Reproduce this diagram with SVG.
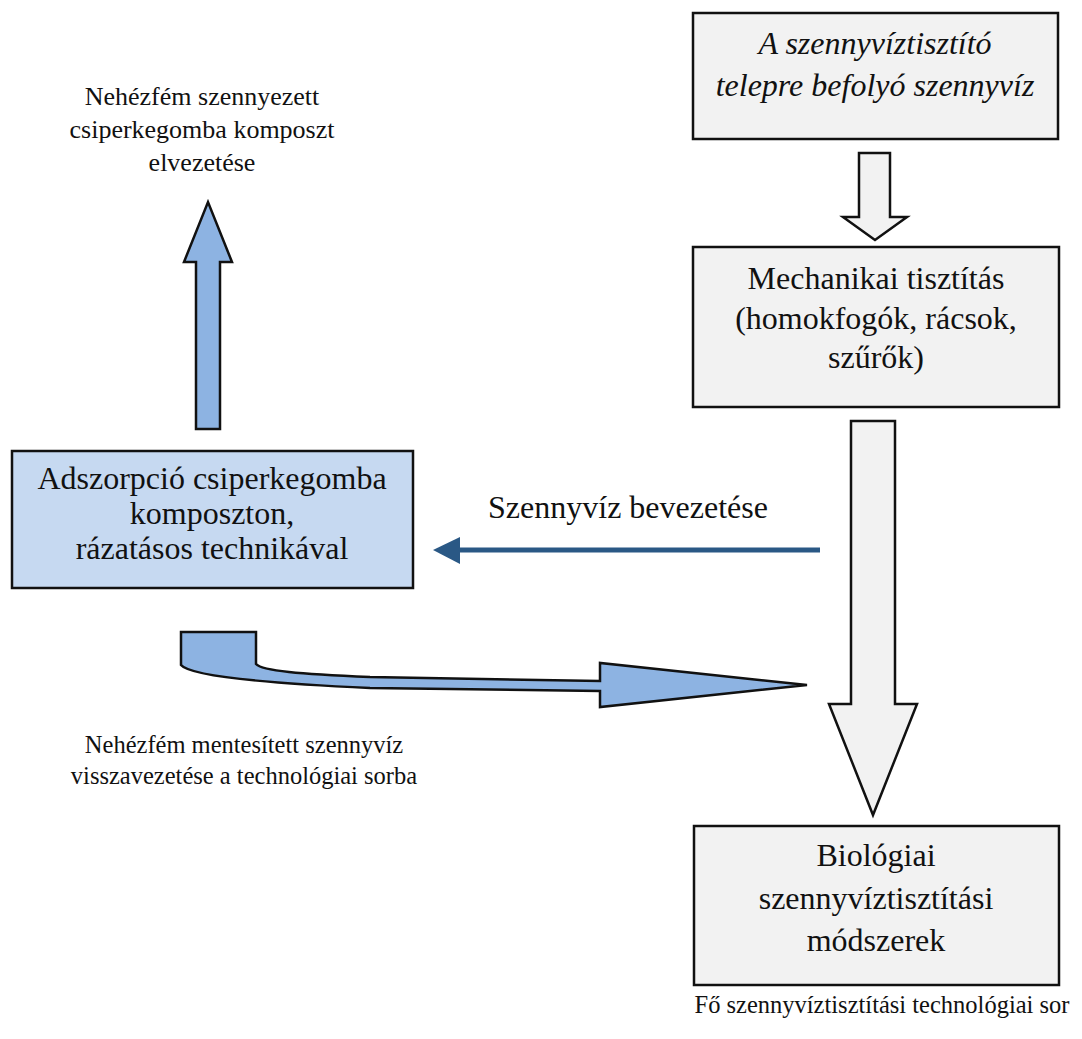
<svg xmlns="http://www.w3.org/2000/svg" width="1082" height="1039" viewBox="0 0 1082 1039">
<style>
text{font-family:"Liberation Serif","Times New Roman",serif;fill:#111;text-anchor:middle}
.box{fill:#f2f2f2;stroke:#111;stroke-width:2.5}
.bbox{fill:#c6d9f1;stroke:#111;stroke-width:2.5}
.big{font-size:32px}
.sm{font-size:26px}
.sm2{font-size:24.5px}
.garrow{fill:#f2f2f2;stroke:#111;stroke-width:2.5;stroke-linejoin:miter}
.barrow{fill:#8db3e2;stroke:#111;stroke-width:2.5;stroke-linejoin:miter}
</style>
<rect width="1082" height="1039" fill="#fff"/>

<g id="connectors">
<path class="garrow" d="M859,153 H890 V217 H907 L875,240 L843,217 H859 Z"/>
<path class="garrow" d="M851,421 H895 V704 H917 L873,815 L829,704 H851 Z"/>
<path class="barrow" d="M196,429 V262 H184 L208,202 L232,262 H220 V429 Z"/>
<path class="barrow" d="M181,632 H256 V664 C262,671 300,674 370,677 L600,681 V663 L807,685 L600,707 V691 L370,688 C260,683 190,676 181,665 Z"/>
<line x1="820" y1="550" x2="455" y2="550" stroke="#2a5885" stroke-width="5"/>
<path d="M433,550 L460,537 L460,564 Z" fill="#2a5885"/>
</g>

<g id="node-inflow">
<rect class="box" x="693" y="13" width="365" height="126"/>
<text class="big" x="875" y="54" font-style="italic">A szennyvíztisztító</text>
<text class="big" x="875" y="96" font-style="italic">telepre befolyó szennyvíz</text>
</g>

<g id="node-mechanical">
<rect class="box" x="693" y="247" width="366" height="160"/>
<text class="big" x="876" y="289">Mechanikai tisztítás</text>
<text class="big" x="876" y="329">(homokfogók, rácsok,</text>
<text class="big" x="876" y="368">szűrők)</text>
</g>

<g id="node-biological">
<rect class="box" x="694" y="826" width="365" height="159"/>
<text class="big" x="876" y="866">Biológiai</text>
<text class="big" x="876" y="909">szennyvíztisztítási</text>
<text class="big" x="876" y="951">módszerek</text>
</g>

<g id="node-adsorption">
<rect class="bbox" x="12" y="451" width="401" height="137"/>
<text class="big" x="212" y="489">Adszorpció csiperkegomba</text>
<text class="big" x="212" y="524">komposzton,</text>
<text class="big" x="212" y="559">rázatásos technikával</text>
</g>

<g id="labels">
<text class="sm" x="202" y="105">Nehézfém szennyezett</text>
<text class="sm" x="202" y="138">csiperkegomba komposzt</text>
<text class="sm" x="202" y="171">elvezetése</text>
<text class="big" x="628" y="518">Szennyvíz bevezetése</text>
<text class="sm2" x="244" y="753">Nehézfém mentesített szennyvíz</text>
<text class="sm2" x="244" y="784">visszavezetése a technológiai sorba</text>
<text class="sm2" x="882" y="1013">Fő szennyvíztisztítási technológiai sor</text>
</g>
</svg>
